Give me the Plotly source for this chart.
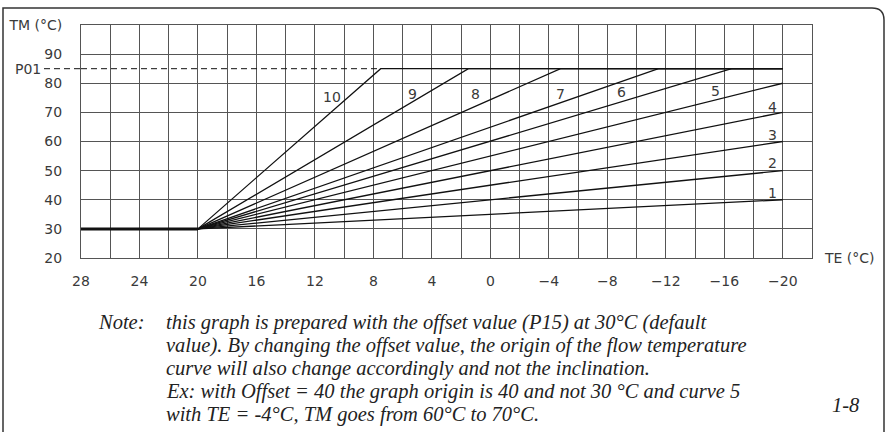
import plotly.graph_objects as go

# ---- data ----
curve_ids = [1, 2, 3, 4, 5, 6, 7, 8, 9, 10]
curve_end_te = [-20, -20, -20, -20, -20, -16.5, -11.5, -4.8, 1.5, 7.5]
curve_end_tm = [40, 50, 60, 70, 80, 85, 85, 85, 85, 85]
origin_te = 20
offset_tm = 30
p01_tm = 85
te_max = 28
te_min = -20
x_ticks = [28, 24, 20, 16, 12, 8, 4, 0, -4, -8, -12, -16, -20]
y_ticks = [20, 30, 40, 50, 60, 70, 80, 90]

note_lines = [
    "this graph is prepared with the offset value (P15) at 30°C (default",
    "value). By changing the offset value, the origin of the flow temperature",
    "curve will also change accordingly and not the inclination.",
    "Ex: with Offset = 40 the graph origin is 40 and not 30 °C and curve 5",
    "with TE = -4°C, TM goes from 60°C to 70°C.",
]

W, H = 888, 432
L, R, T, B = 81, 812, 25, 258  # plot area in px

def px(xp):
    return (xp - L) / (R - L)

def py(yp):
    return (B - yp) / (B - T)

fig = go.Figure()
LINE = "#111"

# flat offset segment (thick)
fig.add_trace(go.Scatter(x=[te_max, origin_te], y=[offset_tm, offset_tm], mode="lines",
                         line=dict(color=LINE, width=3), hoverinfo="skip", showlegend=False))
# curves
for cid, te, tm in zip(curve_ids, curve_end_te, curve_end_tm):
    xs = [origin_te, te]
    ys = [offset_tm, tm]
    if tm >= p01_tm and te > te_min:
        xs.append(te_min)
        ys.append(p01_tm)
    fig.add_trace(go.Scatter(x=xs, y=ys, mode="lines", line=dict(color=LINE, width=1.3),
                             hoverinfo="skip", showlegend=False))
# P01 dashed limit inside plot
fig.add_trace(go.Scatter(x=[te_max, max(curve_end_te)], y=[p01_tm, p01_tm], mode="lines",
                         line=dict(color=LINE, width=1, dash="6px,4px"),
                         hoverinfo="skip", showlegend=False))

GRID = "#555"
TICKFONT = dict(family="DejaVu Sans", size=14, color="#3a3a3a")
fig.update_xaxes(range=[te_max, te_min - 2], tickmode="array", tickvals=x_ticks,
                 ticktext=[f"{v}".replace("-", "−") for v in x_ticks],
                 showgrid=True, gridcolor=GRID, gridwidth=1,
                 minor=dict(dtick=2, tick0=0, showgrid=True, gridcolor=GRID, gridwidth=1),
                 showline=True, linecolor=GRID, linewidth=1, mirror=True, automargin=False,
                 zeroline=False, ticks="", tickfont=TICKFONT, ticklabelstandoff=10)
fig.update_yaxes(range=[20, 100], tickmode="array", tickvals=y_ticks + [100],
                 ticktext=[str(v) for v in y_ticks] + ["TM (°C)"],
                 showgrid=True, gridcolor=GRID, gridwidth=1, automargin=False,
                 showline=True, linecolor=GRID, linewidth=1, mirror=True,
                 zeroline=False, ticks="", tickfont=TICKFONT, ticklabelstandoff=15)

annotations = []
# curve labels (layout positions)
label_pos = {10: (10.8, 75.3), 9: (5.3, 76.4), 8: (1.0, 76.4), 7: (-4.8, 76.4),
             6: (-9.0, 77.0), 5: (-15.4, 77.2), 4: (-19.3, 71.9), 3: (-19.3, 62.1),
             2: (-19.3, 52.5), 1: (-19.3, 42.4)}
for cid in curve_ids:
    lx, ly = label_pos[cid]
    annotations.append(dict(x=lx, y=ly, xref="x", yref="y", text=str(cid), showarrow=False,
                            font=TICKFONT, xanchor="center", yanchor="middle"))
# P01 label
annotations.append(dict(x=px(43), y=p01_tm, xref="paper", yref="y", text="P01",
                        showarrow=False, font=TICKFONT, xanchor="right", yanchor="middle"))
# TE axis title
annotations.append(dict(x=px(822), y=20, xref="paper", yref="y", text="TE (°C)",
                        showarrow=False, font=TICKFONT, xanchor="left", yanchor="middle"))
NOTEFONT = dict(family="Liberation Serif", size=20.5, color="#222", style="italic")
LINE_GAP = 23
annotations.append(dict(x=px(96), y=py(322), xref="paper", yref="paper", text="<i>Note:</i>",
                        showarrow=False, font=NOTEFONT, xanchor="left", yanchor="middle"))
for i, txt in enumerate(note_lines):
    annotations.append(dict(x=px(164), y=py(322 + i * LINE_GAP), xref="paper", yref="paper",
                            text="<i>" + txt + "</i>", showarrow=False, font=NOTEFONT,
                            xanchor="left", yanchor="middle"))
annotations.append(dict(x=px(862), y=py(405), xref="paper", yref="paper", text="<i>1-8</i>",
                        showarrow=False, font=NOTEFONT, xanchor="right", yanchor="middle"))

shapes = [
    # dashed P01 lead-in outside plot
    dict(type="line", xref="paper", yref="y", x0=px(44), x1=0, y0=p01_tm, y1=p01_tm,
         line=dict(color=LINE, width=1, dash="6px,4px")),
    # page frame
    dict(type="path", xref="paper", yref="paper",
         path=(f"M {px(3)} {py(432)} L {px(3)} {py(8)} L {px(872)} {py(8)} "
               f"Q {px(884)} {py(8)} {px(884)} {py(20)} L {px(884)} {py(432)}"),
         line=dict(color="#333", width=1.5)),
]

fig.update_layout(width=W, height=H, margin=dict(l=L, r=W - R, t=T, b=H - B, autoexpand=False),
                  paper_bgcolor="white", plot_bgcolor="white",
                  annotations=annotations, shapes=shapes, showlegend=False)

fig.write_html("out.html", config={"displayModeBar": False},
               post_script="document.body.style.margin='0px';")
